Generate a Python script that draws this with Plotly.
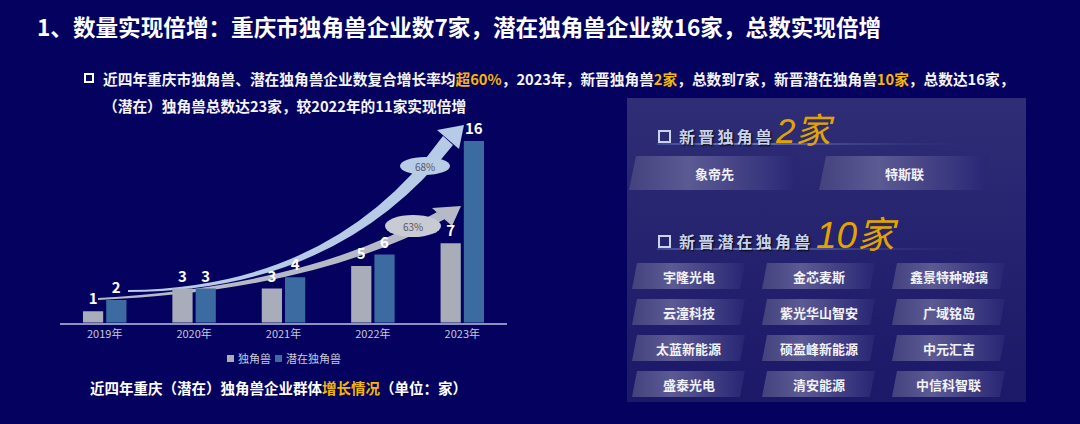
import plotly.graph_objects as go

W, H = 1080, 424
FONT = "Noto Sans CJK SC, Noto Sans, sans-serif"
GOLD = "#f2b705"

# ---------------- data ----------------
years = ["2019年", "2020年", "2021年", "2022年", "2023年"]
unicorn = [1, 3, 3, 5, 7]
potential = [2, 3, 4, 6, 16]
series_names = ["独角兽", "潜在独角兽"]
rate_unicorn = "63%"
rate_potential = "68%"
new_unicorn_count = "2家"
new_potential_count = "10家"
new_unicorns = ["象帝先", "特斯联"]
new_potentials = ["宇隆光电", "金芯麦斯", "鑫景特种玻璃",
                  "云潼科技", "紫光华山智安", "广域铭岛",
                  "太蓝新能源", "硕盈峰新能源", "中元汇吉",
                  "盛泰光电", "清安能源", "中信科智联"]

BAR_COLORS = ["#a9adba", "#3c6ba2"]


def px(x, y):
    return x / W, 1 - y / H


def pp(x, y):
    a, b = px(x, y)
    return f"{a:.5f},{b:.5f}"


fig = go.Figure()

# ---------------- bars ----------------
for name, vals, col in zip(series_names, [unicorn, potential], BAR_COLORS):
    fig.add_bar(x=years, y=vals, name=name, marker=dict(color=col, line=dict(width=0)),
                text=vals, textposition="outside", cliponaxis=False,
                textfont=dict(family=FONT, size=15, color="white", weight=700),
                showlegend=False, hoverinfo="skip")

shapes = []
annotations = []

# ---------------- growth arrows (decoration, behind bars) ----------------
light = "#b7cae6"
grey = "#b6bac6"
shapes.append(dict(type="path", xref="paper", yref="paper", layer="below", line=dict(width=0),
                   fillcolor=light,
                   path=f"M{pp(128,290)} Q{pp(333,288)} {pp(443,136)} L{pp(453,145)} Q{pp(338,292)} {pp(128,292)} Z"))
shapes.append(dict(type="path", xref="paper", yref="paper", layer="below", line=dict(width=0),
                   fillcolor=light,
                   path=f"M{pp(464,125)} L{pp(437,130)} L{pp(459,149)} Z"))
shapes.append(dict(type="path", xref="paper", yref="paper", layer="below", line=dict(width=0),
                   fillcolor=grey,
                   path=f"M{pp(98,298)} Q{pp(311,286)} {pp(437,212)} L{pp(445,219)} Q{pp(313,291)} {pp(98,300)} Z"))
shapes.append(dict(type="path", xref="paper", yref="paper", layer="below", line=dict(width=0),
                   fillcolor=grey,
                   path=f"M{pp(461,206)} L{pp(432,208)} L{pp(452,226)} Z"))
for (cx, cy, rx, ry, col, txt) in [(425, 166, 25, 9, "#b9cce6", rate_potential),
                                   (413, 226, 28, 11, "#c8cad4", rate_unicorn)]:
    x0, y0 = px(cx - rx, cy + ry)
    x1, y1 = px(cx + rx, cy - ry)
    shapes.append(dict(type="circle", xref="paper", yref="paper", layer="below",
                       x0=x0, x1=x1, y0=y0, y1=y1, fillcolor=col, line=dict(width=0)))
    annotations.append(dict(x=cx, y=cy, xref="x2", yref="y2", text=txt, showarrow=False,
                            font=dict(family=FONT, size=10, color="#555869")))

# ---------------- right panel ----------------
def poly(xs, ys, scale, start, stop, typ):
    fig.add_trace(go.Scatter(x=xs, y=ys, xaxis="x2", yaxis="y2", mode="lines", fill="toself",
                             line=dict(width=0, color="rgba(0,0,0,0)"),
                             fillgradient=dict(type=typ, colorscale=scale, start=start, stop=stop),
                             hoverinfo="skip", showlegend=False))


poly([627, 1026, 1026, 627, 627], [98, 98, 402, 402, 98],
     [[0, "#2f2d75"], [1, "#1b1968"]], 98, 402, "vertical")

CARD_SCALE = [[0, "#44427e"], [0.35, "#5c5a93"], [1, "#282674"]]


def card(xbl, ytop, w, h, skew, label):
    xs = [xbl + skew, xbl + skew + w, xbl + w, xbl, xbl + skew]
    ys = [ytop, ytop, ytop + h, ytop + h, ytop]
    poly(xs, ys, CARD_SCALE, xbl, xbl + skew + w, "horizontal")
    annotations.append(dict(x=xbl + (w + skew) / 2, y=ytop + h / 2, xref="x2", yref="y2",
                            text=label, showarrow=False,
                            font=dict(family=FONT, size=13, color="#f2f2fa", weight=700)))


def heading(y, label, count, count_x, count_size):
    x0, y0 = px(659, y + 6)
    x1, y1 = px(670, y - 5)
    shapes.append(dict(type="rect", xref="paper", yref="paper", x0=x0, x1=x1, y0=y0, y1=y1,
                       line=dict(color="#c9d3ee", width=2)))
    annotations.append(dict(x=677, y=y, xref="x2", yref="y2", xanchor="left",
                            text="\u2009".join(label), showarrow=False,
                            font=dict(family=FONT, size=16, color="#c9d3ee", weight=700,
                                      shadow="1px 1px 2px #000")))
    annotations.append(dict(x=count_x, y=y - 6, xref="x2", yref="y2", xanchor="left",
                            text=count, showarrow=False,
                            font=dict(family="Liberation Sans, " + FONT, size=count_size,
                                      color="#e2a400", style="italic")))
    poly([657, 985, 985, 657, 657], [y + 7, y + 7, y + 9, y + 9, y + 7],
         [[0, "#3c4592"], [0.25, "#6d7cc4"], [1, "rgba(45,43,115,0)"]], 657, 985, "horizontal")


heading(136, "新晋独角兽", new_unicorn_count, 773, 35)
heading(241, "新晋潜在独角兽", new_potential_count, 814, 37)

for i, name in enumerate(new_unicorns):
    card(629 + 190 * i, 156, 163, 34, 7, name)

for i, name in enumerate(new_potentials):
    r, c = divmod(i, 3)
    card(632 + 130 * c, 263 + 36 * r, 108, 26, 5, name)

# ---------------- texts ----------------
annotations.append(dict(x=35, y=26, xref="x2", yref="y2", xanchor="left", showarrow=False,
                        text="1、数量实现倍增：重庆市独角兽企业数7家，潜在独角兽企业数16家，总数实现倍增",
                        font=dict(family=FONT, size=22.6, color="white", weight=700)))
bx0, by0 = px(85, 82)
bx1, by1 = px(93, 74)
shapes.append(dict(type="rect", xref="paper", yref="paper", x0=bx0, x1=bx1, y0=by0, y1=by1,
                   line=dict(color="white", width=2)))
annotations.append(dict(x=101, y=78, xref="x2", yref="y2", xanchor="left", showarrow=False,
                        text=("近四年重庆市独角兽、潜在独角兽企业数复合增长率均"
                              f"<span style='color:{GOLD}'>超60%</span>，2023年，新晋独角兽"
                              f"<span style='color:{GOLD}'>2家</span>，总数到7家，新晋潜在独角兽"
                              f"<span style='color:{GOLD}'>10家</span>，总数达16家，"),
                        font=dict(family=FONT, size=14.7, color="#f4f4fa", weight=700)))
annotations.append(dict(x=101, y=105, xref="x2", yref="y2", xanchor="left", showarrow=False,
                        text="（潜在）独角兽总数达23家，较2022年的11家实现倍增",
                        font=dict(family=FONT, size=14.7, color="#f4f4fa", weight=700)))
annotations.append(dict(x=278, y=387, xref="x2", yref="y2", showarrow=False,
                        text=f"近四年重庆（潜在）独角兽企业群体<span style='color:{GOLD}'>增长情况</span>（单位：家）",
                        font=dict(family=FONT, size=14.5, color="white", weight=700)))

# custom legend
lx = [227, 275]
for x, name, col in zip(lx, series_names, BAR_COLORS):
    a0, b0 = px(x, 362)
    a1, b1 = px(x + 7, 355)
    shapes.append(dict(type="rect", xref="paper", yref="paper", x0=a0, x1=a1, y0=b0, y1=b1,
                       fillcolor=col, line=dict(width=0)))
    annotations.append(dict(x=x + 9, y=358, xref="x2", yref="y2", xanchor="left", showarrow=False,
                            text=name, font=dict(family=FONT, size=11, color="#c8cadc")))

base_y = 322.7
unit = 11.36
ymax = 17.5

fig.update_layout(
    width=W, height=H, margin=dict(l=0, r=0, t=0, b=0),
    paper_bgcolor="#04025e", plot_bgcolor="rgba(0,0,0,0)",
    barmode="group", bargap=0.48, bargroupgap=0.13,
    xaxis=dict(domain=[60 / W, 507 / W], showline=True, linecolor="#8e90c2", linewidth=1.5,
               showgrid=False, zeroline=False, ticks="", fixedrange=True,
               tickfont=dict(family=FONT, size=11, color="#c6c8dc")),
    yaxis=dict(domain=[(H - base_y) / H, (H - base_y + ymax * unit) / H], range=[0, ymax],
               visible=False, fixedrange=True),
    xaxis2=dict(domain=[0, 1], range=[0, W], visible=False, anchor="y2", fixedrange=True),
    yaxis2=dict(domain=[0, 1], range=[H, 0], visible=False, anchor="x2", fixedrange=True),
    shapes=shapes, annotations=annotations, showlegend=False,
)

fig.write_html("out.html", config={"displayModeBar": False},
               post_script="document.body.style.margin='0';document.body.style.padding='0';"
                           "document.body.style.background='#04025e';")
